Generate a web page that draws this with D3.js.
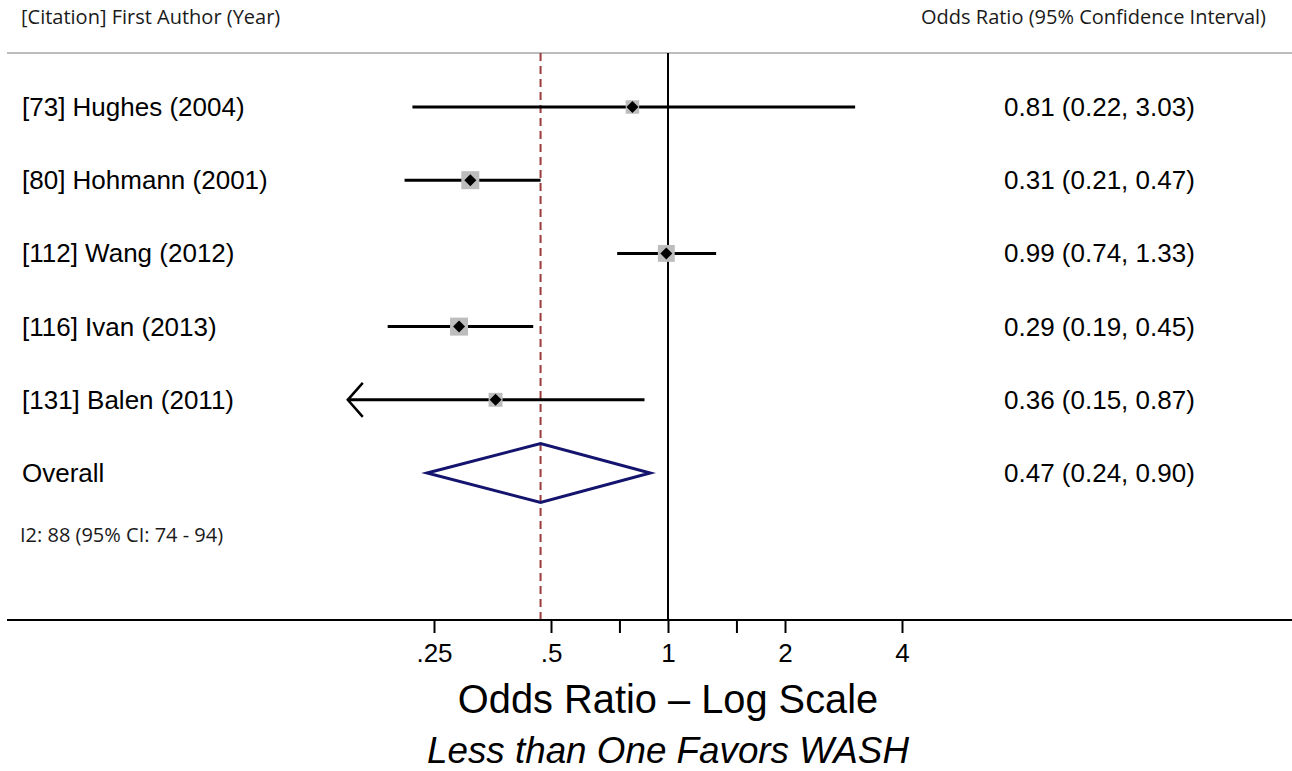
<!DOCTYPE html>
<html><head><meta charset="utf-8">
<script src="https://cdn.jsdelivr.net/npm/d3@7"></script>
<style>body{margin:0;background:#fff}svg{display:block}</style>
</head><body>
<script>
const studies = ["[73] Hughes (2004)", "[80] Hohmann (2001)", "[112] Wang (2012)", "[116] Ivan (2013)", "[131] Balen (2011)"];
const or = [0.81, 0.31, 0.99, 0.29, 0.36];
const lower = [0.22, 0.21, 0.74, 0.19, 0.15];
const upper = [3.03, 0.47, 1.33, 0.45, 0.87];
const weights = [14, 25, 22, 25, 15];
const overall = {label: "Overall", or: 0.47, lo: 0.24, hi: 0.90};
const heterogeneity = "I2: 88 (95% CI: 74 - 94)";
const tickValues = [0.25, 0.5, 0.75, 1, 1.5, 2, 4];
const tickLabels = {0.25: ".25", 0.5: ".5", 1: "1", 2: "2", 4: "4"};
const axisMin = 0.15;
const fmt = d3.format(".2f");

const W = 1292, H = 771;
const svg = d3.select("body").append("svg").attr("width", W).attr("height", H);

const x = d3.scaleLog().base(2).domain([0.25, 4]).range([434, 902]);
const rows = studies.concat([overall.label]);
const y = d3.scalePoint().domain(rows).range([107, 473]);
const size = d3.scaleSqrt().domain([0, 25]).range([0, 18]);

const headFont = "'Open Sans', 'Noto Sans', sans-serif";
const bodyFont = "'Liberation Sans', Arial, sans-serif";

// headers
svg.append("text").attr("x", 21).attr("y", 24).attr("font-family", headFont).attr("font-size", 20).attr("fill", "#1a1a1a").text("[Citation] First Author (Year)");
svg.append("text").attr("x", 1266).attr("y", 24).attr("text-anchor", "end").attr("font-family", headFont).attr("font-size", 20).attr("fill", "#1a1a1a").text("Odds Ratio (95% Confidence Interval)");
svg.append("line").attr("x1", 7).attr("x2", W).attr("y1", 53).attr("y2", 53).attr("stroke", "#bdbdbd").attr("stroke-width", 2);

const yTop = 53, yBot = 620;
// null line
svg.append("line").attr("x1", x(1)).attr("x2", x(1)).attr("y1", yTop).attr("y2", yBot).attr("stroke", "#000").attr("stroke-width", 2);
// overall dashed line
svg.append("line").attr("x1", x(overall.or)).attr("x2", x(overall.or)).attr("y1", yTop).attr("y2", yBot)
  .attr("stroke", "#9b3b3b").attr("stroke-width", 2).attr("stroke-dasharray", "8,5");

// study rows
studies.forEach((s, i) => {
  const yy = y(s);
  svg.append("text").attr("x", 22).attr("y", yy + 9).attr("font-family", bodyFont).attr("font-size", 26).attr("fill", "#000").text(s);
  svg.append("text").attr("x", 1004).attr("y", yy + 9).attr("font-family", bodyFont).attr("font-size", 26).attr("fill", "#000")
    .text(`${fmt(or[i])} (${fmt(lower[i])}, ${fmt(upper[i])})`);
  const lo = Math.max(lower[i], axisMin);
  svg.append("line").attr("x1", x(lo)).attr("x2", x(upper[i])).attr("y1", yy).attr("y2", yy).attr("stroke", "#000").attr("stroke-width", 3);
  if (lower[i] <= axisMin) {
    const tx = x(lo);
    svg.append("path").attr("d", `M${tx + 15},${yy - 17} L${tx},${yy} L${tx + 15},${yy + 17}`)
      .attr("fill", "none").attr("stroke", "#000").attr("stroke-width", 2.5);
  }
  const s2 = size(weights[i]);
  svg.append("rect").attr("x", x(or[i]) - s2 / 2).attr("y", yy - s2 / 2).attr("width", s2).attr("height", s2).attr("fill", "#bdbdbd");
  const cx = x(or[i]), d = 6;
  svg.append("path").attr("d", `M${cx - d},${yy} L${cx},${yy - d} L${cx + d},${yy} L${cx},${yy + d}Z`).attr("fill", "#000");
});

// overall
{
  const yy = y(overall.label);
  svg.append("text").attr("x", 22).attr("y", yy + 9).attr("font-family", bodyFont).attr("font-size", 26).text(overall.label);
  svg.append("text").attr("x", 1004).attr("y", yy + 9).attr("font-family", bodyFont).attr("font-size", 26)
    .text(`${fmt(overall.or)} (${fmt(overall.lo)}, ${fmt(overall.hi)})`);
  const h = 29.5;
  svg.append("path").attr("d", `M${x(overall.lo)},${yy} L${x(overall.or)},${yy - h} L${x(overall.hi)},${yy} L${x(overall.or)},${yy + h}Z`)
    .attr("fill", "none").attr("stroke", "#14146e").attr("stroke-width", 3);
}
svg.append("text").attr("x", 20).attr("y", 542).attr("font-family", headFont).attr("font-size", 20).attr("fill", "#1a1a1a").text(heterogeneity);

// axis
svg.append("line").attr("x1", 7).attr("x2", W).attr("y1", yBot).attr("y2", yBot).attr("stroke", "#000").attr("stroke-width", 2);
const axis = d3.axisBottom(x).tickValues(tickValues).tickSize(13).tickPadding(11).tickFormat(d => tickLabels[d] || "");
const ag = svg.append("g").attr("transform", `translate(0,${yBot})`).call(axis);
ag.select(".domain").remove();
ag.selectAll(".tick line").attr("stroke", "#000").attr("stroke-width", 2);
ag.selectAll(".tick text").attr("font-family", bodyFont).attr("font-size", 26).attr("fill", "#000");

svg.append("text").attr("x", x(1)).attr("y", 713).attr("text-anchor", "middle").attr("font-family", bodyFont).attr("font-size", 39.8).text("Odds Ratio \u2013 Log Scale");
svg.append("text").attr("x", x(1)).attr("y", 763).attr("text-anchor", "middle").attr("font-family", bodyFont).attr("font-size", 36.8).attr("font-style", "italic").text("Less than One Favors WASH");
</script>
</body></html>
